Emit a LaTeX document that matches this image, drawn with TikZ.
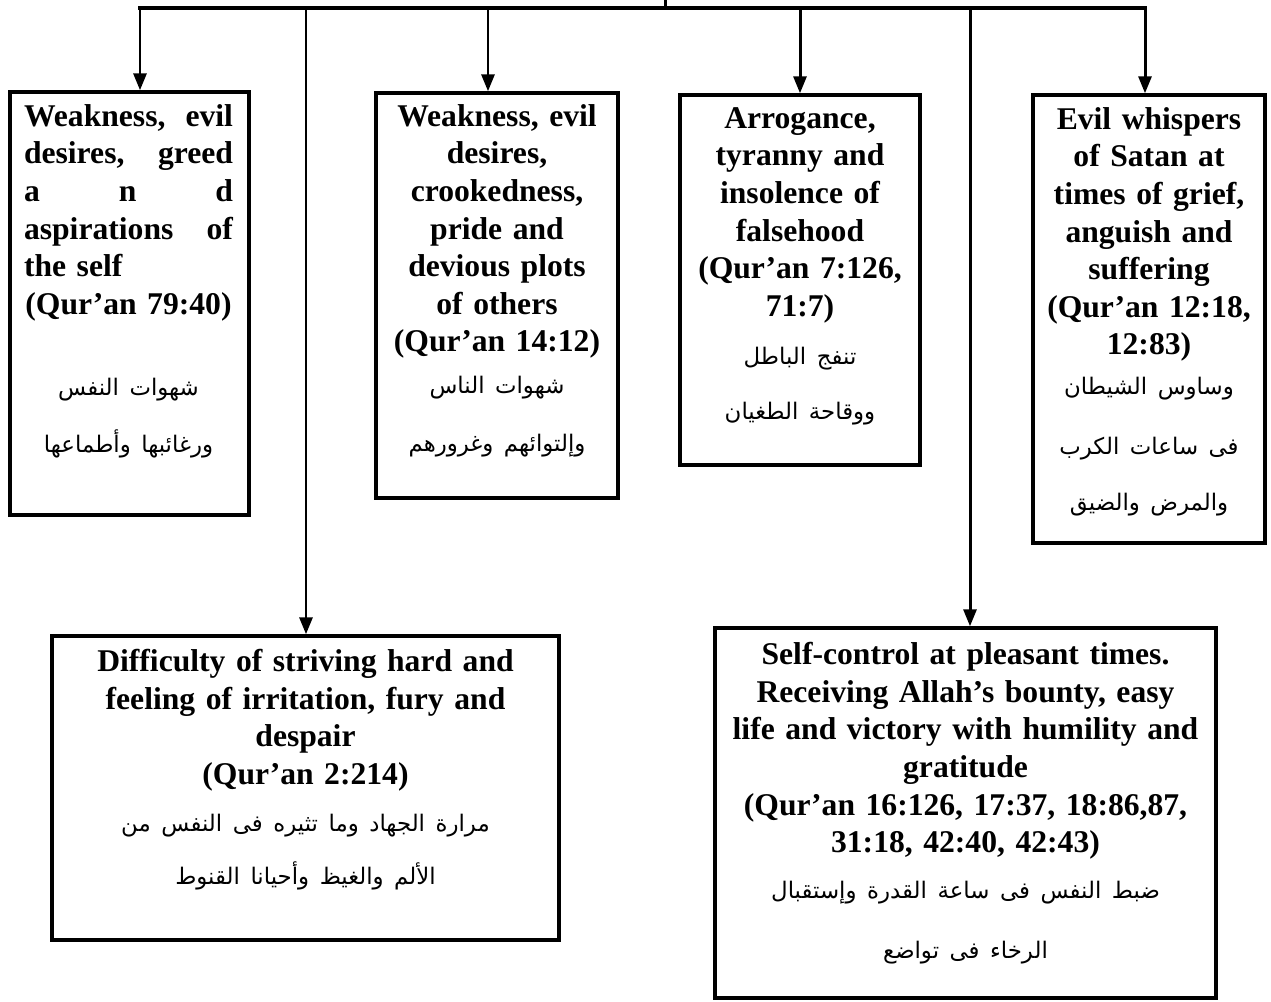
\documentclass[tikz,border=0pt]{standalone}
\usepackage{fontspec}
\setmainfont{Liberation Serif}
\newfontfamily\arabicfont[Script=Arabic]{DejaVu Sans}
\TeXXeTstate=1
\usetikzlibrary{arrows.meta}
\newcommand{\arline}[1]{{\arabicfont\mdseries\fontsize{13}{21.4}\selectfont\beginR #1\endR}}
\newcommand{\spreadgap}{\hskip 0pt plus 1filll\relax}
\begin{document}
\begin{tikzpicture}[x=0.02cm, y=-0.02cm,
  frame/.style={rectangle, draw, line width=2pt},
  desc/.style={anchor=north, inner sep=0pt, align=center, font=\bfseries\fontsize{18}{21.4}\selectfont},
  feed/.style={line width=1.7pt, -{Triangle[length=0.34cm, width=0.26cm]}},
  bar/.style={line width=2.8pt}]
  \useasboundingbox (0, 0) rectangle (1271, 1001);
  % Boxes
  \node (box-1) [frame, minimum width=4.78cm, minimum height=8.46cm] at (129.5, 303.5) {};
  \node (box-2) [frame, minimum width=4.84cm, minimum height=8.1cm] at (497, 295.5) {};
  \node (box-3) [frame, minimum width=4.8cm, minimum height=7.4cm] at (800, 280) {};
  \node (box-4) [frame, minimum width=4.64cm, minimum height=8.96cm] at (1149, 319) {};
  \node (box-5) [frame, minimum width=10.14cm, minimum height=6.08cm] at (305.5, 788) {};
  \node (box-6) [frame, minimum width=10.02cm, minimum height=7.4cm] at (965.5, 813) {};
  % Texts
  \node (text-1) [desc, text width=4.18cm] at (128.5, 104) {Weakness,\spreadgap evil\\
    desires,\spreadgap greed\\
    a\spreadgap n\spreadgap d\\
    aspirations\spreadgap of\\
    the self\spreadgap\null\\
    (Qur’an 79:40)\\[24.7pt]
    \arline{شهوات النفس}\\[11pt]
    \arline{ورغائبها وأطماعها}};
  \node (text-2) [desc, text width=4.6cm] at (497, 104) {Weakness, evil\\
    desires,\\
    crookedness,\\
    pride and\\
    devious plots\\
    of others\\
    (Qur’an 14:12)\\[2.5pt]
    \arline{شهوات الناس}\\[11.6pt]
    \arline{وإلتوائهم وغرورهم}};
  \node (text-3) [desc, text width=4.6cm] at (800, 107) {Arrogance,\\
    tyranny and\\
    insolence of\\
    falsehood\\
    (Qur’an 7:126,\\
    71:7)\\[6pt]
    \arline{تنفج الباطل}\\[10pt]
    \arline{ووقاحة الطغيان}};
  \node (text-4) [desc, text width=4.4cm] at (1149, 107) {Evil whispers\\
    of Satan at\\
    times of grief,\\
    anguish and\\
    suffering\\
    (Qur’an 12:18,\\
    12:83)\\[1.4pt]
    \arline{وساوس الشيطان}\\[12.7pt]
    \arline{فى ساعات الكرب}\\[10pt]
    \arline{والمرض والضيق}};
  \node (text-5) [desc, text width=9.8cm] at (305.5, 649) {Difficulty of striving hard and\\
    feeling of irritation, fury and\\
    despair\\
    (Qur’an 2:214)\\[5.3pt]
    \arline{مرارة الجهاد وما تثيره فى النفس من}\\[8.8pt]
    \arline{الألم والغيظ وأحيانا القنوط}};
  \node (text-6) [desc, text width=9.7cm] at (965.5, 642) {Self-control at pleasant times.\\
    Receiving Allah’s bounty, easy\\
    life and victory with humility and\\
    gratitude\\
    (Qur’an 16:126, 17:37, 18:86,87,\\
    31:18, 42:40, 42:43)\\[4.8pt]
    \arline{ضبط النفس فى ساعة القدرة وإستقبال}\\[12.7pt]
    \arline{الرخاء فى تواضع}};
  % Bar
  \coordinate (source) at (665, 0);
  \coordinate (bar-mid) at (665, 8);
  \coordinate (bar-1) at (140, 8);
  \coordinate (bar-2) at (306, 8);
  \coordinate (bar-3) at (488, 8);
  \coordinate (bar-4) at (800, 8);
  \coordinate (bar-5) at (970, 8);
  \coordinate (bar-6) at (1145, 8);
  \draw[bar] ([xshift=-1pt]bar-1) -- ([xshift=1pt]bar-6);
  \draw[line width=1.7pt] (source) -- (bar-mid);
  % Arrows
  \draw[feed] (bar-1) -- (bar-1 |- box-1.north);
  \draw[feed] (bar-2) -- (bar-2 |- box-5.north);
  \draw[feed] (bar-3) -- (bar-3 |- box-2.north);
  \draw[feed] (bar-4) -- (bar-4 |- box-3.north);
  \draw[feed] (bar-5) -- (bar-5 |- box-6.north);
  \draw[feed] (bar-6) -- (bar-6 |- box-4.north);
\end{tikzpicture}
\end{document}
